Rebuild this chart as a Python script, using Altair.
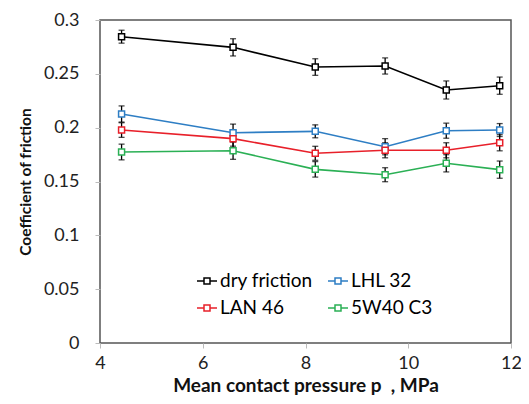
import altair as alt
import pandas as pd

pressure = [4.42, 6.59, 8.19, 9.55, 10.74, 11.78]
series_names = ["dry friction", "LHL 32", "LAN 46", "5W40 C3"]
dry = [0.2845, 0.2746, 0.2563, 0.2573, 0.2350, 0.2390]
dry_err = [0.006, 0.008, 0.0077, 0.0075, 0.0084, 0.008]
lhl = [0.2127, 0.1953, 0.1966, 0.1823, 0.1972, 0.1978]
lhl_err = [0.0075, 0.008, 0.006, 0.0075, 0.007, 0.006]
lan = [0.1978, 0.1898, 0.1762, 0.1790, 0.1790, 0.1860]
lan_err = [0.0068, 0.007, 0.0065, 0.007, 0.007, 0.0075]
w40 = [0.1774, 0.1786, 0.1613, 0.1563, 0.1669, 0.1610]
w40_err = [0.0073, 0.008, 0.0072, 0.0065, 0.008, 0.008]
colors = ["#000000", "#2E7EC4", "#E8202A", "#2BB055"]
legend_order = ["dry friction", "LAN 46", "LHL 32", "5W40 C3"]
x_title = "Mean contact pressure p\u00a0\u00a0, MPa"
y_title = "Coefficient of friction"

rows = []
for name, vals, errs in zip(series_names, [dry, lhl, lan, w40], [dry_err, lhl_err, lan_err, w40_err]):
    for p, v, e in zip(pressure, vals, errs):
        rows.append({"series": name, "p": p, "cof": v, "lo": v - e, "hi": v + e})
df = pd.DataFrame(rows)

FONT = "Lato"
x = alt.X("p:Q", scale=alt.Scale(domain=[4, 12], nice=False),
          axis=alt.Axis(values=[4, 6, 8, 10, 12], title=x_title, titleFontSize=19))
y = alt.Y("cof:Q", scale=alt.Scale(domain=[0, 0.3], nice=False),
          axis=alt.Axis(values=[0, 0.05, 0.1, 0.15, 0.2, 0.25, 0.3], format="~g",
                        title=y_title, titleFontSize=15.5))
color = alt.Color("series:N", scale=alt.Scale(domain=series_names, range=colors),
                  legend=alt.Legend(
                      title=None, orient="none", legendX=96, legendY=250, columns=2,
                      symbolType="M-1,0H-0.3M0.3,0H1M-0.3,-0.3H0.3V0.3H-0.3Z",
                      symbolSize=400, symbolStrokeWidth=1.5, symbolFillColor="white",
                      labelFont=FONT, labelFontSize=19, labelColor="#000",
                      rowPadding=6, columnPadding=12, labelOffset=2,
                      values=legend_order))

base = alt.Chart(df)
err = base.mark_errorbar(ticks=alt.MarkConfig(size=6, color="black"), color="black", thickness=1.3).encode(
    x=x, y=alt.Y("lo:Q", title=y_title), y2="hi:Q")
lines = base.mark_line(strokeWidth=1.6).encode(x=x, y=y, color=color)
pts = base.mark_point(shape="square", size=36, filled=False, fill="white", fillOpacity=1,
                      strokeWidth=1.5, opacity=1).encode(x=x, y=y, color=alt.Color("series:N",
                      scale=alt.Scale(domain=series_names, range=colors), legend=None))

chart = alt.layer(err, lines, pts).properties(
    width=411, height=323,
    autosize=alt.AutoSizeParams(type="none"),
    padding={"left": 92, "top": 12, "right": 10, "bottom": 60},
).configure_view(stroke="#555555", strokeWidth=1.5).configure_axis(
    grid=False, domain=False, tickColor="#bbbbbb", tickSize=5,
    labelFont=FONT, labelFontSize=18, labelColor="#222",
    titleFont=FONT, titleFontWeight="bold", titleColor="#111",
).configure_axisY(labelPadding=16, titlePadding=10).configure_axisX(
    labelPadding=6, titlePadding=4, labelFlush=False)

chart.save("out.html", embed_options={"renderer": "svg", "actions": False})
